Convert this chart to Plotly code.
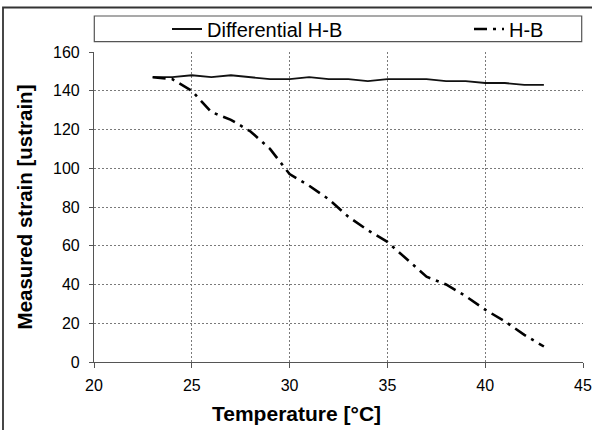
import plotly.graph_objects as go

# Data
temperature = [23, 24, 25, 26, 27, 28, 29, 30, 31, 32, 33, 34, 35, 36, 37, 38, 39, 40, 41, 42, 43]
differential_hb = [147, 147, 148, 147, 148, 147, 146, 146, 147, 146, 146, 145, 146, 146, 146, 145, 145, 144, 144, 143, 143]
hb = [147, 146, 140, 129, 125, 119, 110, 97, 91, 84, 75, 68, 62, 53, 44, 40, 34, 27, 21, 14, 8]

x_ticks = [20, 25, 30, 35, 40, 45]
y_ticks = [0, 20, 40, 60, 80, 100, 120, 140, 160]

FONT = "Liberation Sans, Arial, sans-serif"

fig = go.Figure()
fig.add_trace(go.Scatter(x=temperature, y=differential_hb, mode="lines",
                         name="Differential H-B", legend="legend",
                         line=dict(color="#111111", width=1.8)))
fig.add_trace(go.Scatter(x=temperature, y=hb, mode="lines", name="H-B", legend="legend2",
                         line=dict(color="#000000", width=2.6, dash="13px,6px,3px,6px")))

L, R, T, B = 94, 9, 52, 68
W, H = 592, 430
pw, ph = W - L - R, H - T - B

def px_x(p):
    return (p - L) / pw

def px_y(p):
    return (H - B - p) / ph

leg_common = dict(orientation="h", xanchor="left", yanchor="middle",
                  bgcolor="rgba(0,0,0,0)", borderwidth=0,
                  font=dict(size=20, family=FONT))

fig.update_layout(
    width=W, height=H,
    margin=dict(l=L, r=R, t=T, b=B, pad=0, autoexpand=False),
    paper_bgcolor="white", plot_bgcolor="white",
    font=dict(family=FONT, size=16, color="#000000"),
    showlegend=True,
    legend=dict(x=px_x(167), y=px_y(29), **leg_common),
    legend2=dict(x=px_x(469), y=px_y(29), **leg_common),
    xaxis=dict(range=[20, 45], tickvals=x_ticks, ticktext=[str(v) for v in x_ticks],
               showgrid=True, gridcolor="#7a7a7a", griddash="2px,2px", gridwidth=1,
               showline=True, linecolor="#555555", linewidth=1.2,
               ticks="outside", ticklen=5, tickcolor="#555555", tickwidth=1,
               zeroline=False, tickfont=dict(size=16), ticklabelstandoff=4,
               ticklabeloverflow="allow"),
    yaxis=dict(range=[0, 160], tickvals=y_ticks, ticktext=[str(v) for v in y_ticks],
               showgrid=True, gridcolor="#7a7a7a", griddash="2px,2px", gridwidth=1,
               showline=True, linecolor="#555555", linewidth=1.2,
               ticks="outside", ticklen=4, tickcolor="#555555", tickwidth=1,
               zeroline=False, tickfont=dict(size=16), ticklabelstandoff=6,
               ticklabeloverflow="allow",
               title=dict(text="<b>Measured strain [ustrain]</b>", font=dict(size=20.5, family=FONT),
                          standoff=14)),
    annotations=[dict(text="<b>Temperature [°C]</b>", xref="paper", yref="paper",
                      x=px_x(296), y=px_y(413), xanchor="center", yanchor="middle",
                      showarrow=False, font=dict(size=21, family=FONT))],
    shapes=[
        # legend frame
        dict(type="rect", xref="paper", yref="paper",
             x0=px_x(94.3), x1=px_x(581.7), y0=px_y(16), y1=px_y(41.7),
             line=dict(color="#555555", width=1.2), fillcolor="rgba(0,0,0,0)", layer="below"),
        # outer chart border (extends past right and bottom edges)
        dict(type="rect", xref="paper", yref="paper",
             x0=px_x(3), x1=px_x(600), y0=px_y(440), y1=px_y(7.5),
             line=dict(color="#333333", width=1.8), fillcolor="rgba(0,0,0,0)", layer="above"),
    ],
)

fig.write_html("out.html", config={"displayModeBar": False},
               post_script="document.body.style.margin='0';document.body.style.overflow='hidden';")
